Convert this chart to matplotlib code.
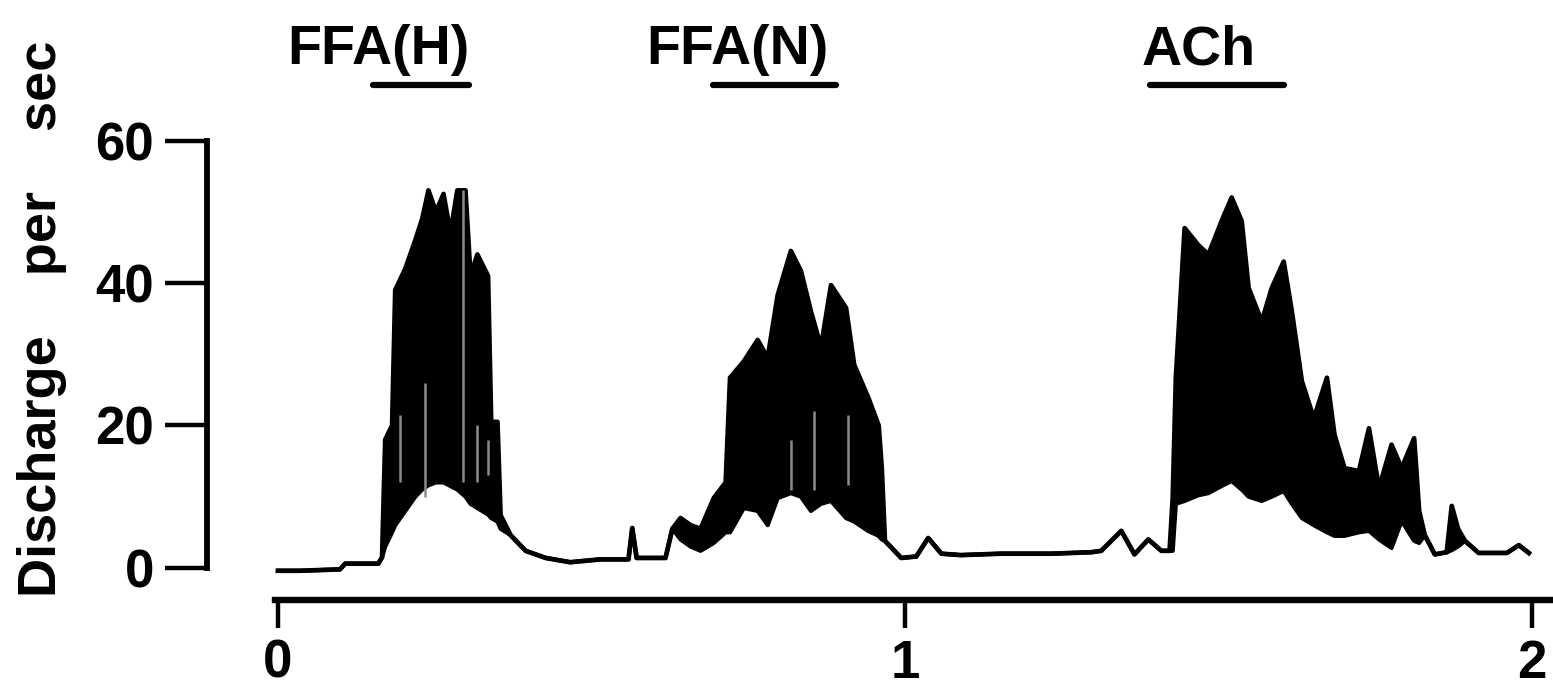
import numpy as np
import matplotlib
matplotlib.use('Agg')
import matplotlib.pyplot as plt

plt.rcParams['font.family'] = ['Liberation Sans', 'DejaVu Sans']
plt.rcParams['font.weight'] = 'bold'

# chart-recorder trace: time (x-axis units) with upper / lower envelope of discharge (per sec)
t = [0.000, 0.035, 0.099, 0.107, 0.160, 0.166, 0.171, 0.182, 0.187, 0.203,
     0.219, 0.230, 0.240, 0.252, 0.264, 0.275, 0.286, 0.299, 0.307, 0.318,
     0.335, 0.340, 0.350, 0.355, 0.371, 0.395, 0.427, 0.466, 0.514, 0.559,
     0.565, 0.572, 0.618, 0.629, 0.642, 0.658, 0.674, 0.695, 0.714, 0.721,
     0.743, 0.765, 0.781, 0.797, 0.818, 0.834, 0.850, 0.866, 0.882, 0.906,
     0.919, 0.941, 0.958, 0.963, 0.968, 0.994, 1.018, 1.037, 1.058, 1.089,
     1.153, 1.233, 1.297, 1.313, 1.345, 1.366, 1.388, 1.409, 1.422, 1.427,
     1.432, 1.446, 1.468, 1.484, 1.505, 1.521, 1.537, 1.548, 1.569, 1.585,
     1.604, 1.617, 1.633, 1.652, 1.673, 1.685, 1.701, 1.724, 1.740, 1.756,
     1.776, 1.792, 1.812, 1.820, 1.829, 1.845, 1.864, 1.872, 1.882, 1.893,
     1.915, 1.960, 1.979, 1.995]
upper = [-0.4, -0.4, -0.2, 0.6, 0.6, 1.5, 18, 20, 39, 42,
         46, 49, 53, 50, 52.5, 47, 53, 53, 41, 44,
         41, 20.5, 20.5, 7.4, 4.6, 2.4, 1.4, 0.8, 1.2, 1.2,
         5.6, 1.4, 1.4, 5.5, 7, 6, 5.5, 9.8, 12, 26.7,
         29, 32, 29.5, 38.3, 44.5, 41.7, 36, 31, 39.7, 36.5,
         28.5, 24, 20, 14, 3.8, 1.4, 1.6, 4.2, 2.0, 1.8,
         2.0, 2.0, 2.2, 2.4, 5.2, 1.9, 4.0, 2.4, 2.4, 9.8,
         26.7, 47.7, 45.3, 44, 48.7, 52, 48.7, 39.3, 34.6, 39.3,
         43, 36, 26.2, 21, 26.7, 18.7, 14, 13.6, 19.6, 11.2,
         17.3, 14, 18.2, 8, 4.6, 1.9, 2.2, 8.7, 5.5, 3.8,
         2.1, 2.1, 3.2, 2.1]
lower = [-0.4, -0.4, -0.2, 0.6, 0.6, 1.5, 3, 5, 6, 8,
         10, 11, 11.6, 12, 12, 11.5, 11, 10, 9, 8.4,
         7.5, 7, 6.5, 5.5, 4.6, 2.4, 1.4, 0.8, 1.2, 1.2,
         5.6, 1.4, 1.4, 5.5, 4, 3, 2.4, 3.5, 5, 5,
         8.4, 8, 6, 9.8, 10.5, 10, 8, 9, 9.4, 7,
         6.5, 5.2, 4.5, 4, 3.8, 1.4, 1.6, 4.2, 2.0, 1.8,
         2.0, 2.0, 2.2, 2.4, 5.2, 1.9, 4.0, 2.4, 2.4, 2.4,
         9, 9.4, 10.2, 10.5, 11.5, 12.2, 11, 10, 9.4, 10,
         10.8, 9, 7, 6, 5, 4.5, 4.5, 5, 5.2, 4,
         2.8, 6.6, 3.8, 3.5, 4.6, 1.9, 2.2, 2.5, 3, 3.8,
         2.1, 2.1, 3.2, 2.1]

# pale gaps seen inside the dense bursts
streak_t = [0.195, 0.235, 0.295, 0.318, 0.335, 0.818, 0.855, 0.909]
streak_lo = [12, 10, 12, 12, 13, 11, 11, 11.6]
streak_hi = [21.5, 26, 53, 20, 18, 18, 22, 21.5]

# drug application markers
drug_labels = ['FFA(H)', 'FFA(N)', 'ACh']
label_t = [0.160, 0.733, 1.468]
bar_start = [0.152, 0.693, 1.390]
bar_end = [0.304, 0.890, 1.604]

yticks = [0, 20, 40, 60]
xticks = [0, 1, 2]

fig = plt.figure(figsize=(15.53, 7.0), dpi=100)
ax = fig.add_axes([0.1333, 0.1429, 0.8667, 0.6614])

ax.fill_between(t, lower, upper, color='black', lw=0)
ax.plot(t, upper, color='black', lw=3.4, solid_joinstyle='round')
ax.plot(t, lower, color='black', lw=3.0, solid_joinstyle='round')
ax.vlines(streak_t, streak_lo, streak_hi, color='#8c8c8c', lw=1.8)

ax.set_xlim(-0.1132, 2.0335)
ax.set_ylim(-4.5, 60.5)

for s in ['top', 'right']:
    ax.spines[s].set_visible(False)
ax.spines['left'].set_bounds(0, 60)
ax.spines['left'].set_linewidth(4.2)
ax.spines['bottom'].set_bounds(-0.005, 2.0335)
ax.spines['bottom'].set_linewidth(4.6)

ax.set_yticks(yticks)
ax.set_yticklabels([str(v) for v in yticks])
ax.set_xticks(xticks)
ax.set_xticklabels([str(v) for v in xticks])
ax.tick_params(axis='y', direction='out', length=30, width=3.2, pad=8,
               labelsize=38)
ax.tick_params(axis='x', direction='out', length=20, width=3.2, pad=8,
               labelsize=38)

for lab, lt, b0, b1 in zip(drug_labels, label_t, bar_start, bar_end):
    ax.text(lt, 72.7, lab, ha='center', va='center', fontsize=40,
            fontweight='bold', clip_on=False)
    ax.plot([b0, b1], [67.8, 67.8], color='black', lw=4.5,
            solid_capstyle='round', clip_on=False)

fig.text(0.027, 0.545, 'Discharge    per    sec', rotation=90,
         ha='center', va='center', fontsize=39, fontweight='bold')

plt.savefig('out.png', dpi=100)
plt.close()
